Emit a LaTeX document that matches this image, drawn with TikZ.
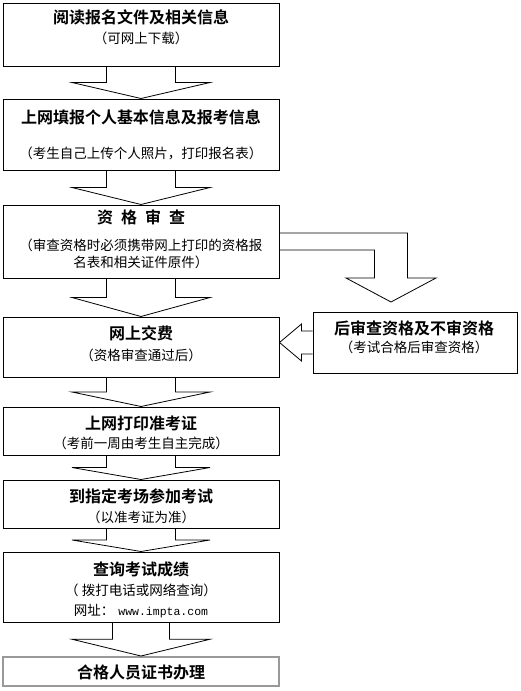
\documentclass[tikz,border=0pt]{standalone}
\usepackage{fontspec}
\setmainfont{Noto Sans CJK SC}[BoldFont={Noto Sans CJK SC Bold}]
\setmonofont{Liberation Mono}
\usetikzlibrary{calc}

\tikzset{
  stage/.style={draw, line width=1pt, minimum width=276, minimum height=#1, inner sep=0},
  head/.style={font=\bfseries\fontsize{16}{18}\selectfont, inner sep=0},
  note/.style={font=\fontsize{13.5}{17}\selectfont, align=center, inner sep=0},
  blk/.style={line width=0.8pt, line join=miter}
}

% block arrow pointing down from one stage to the next
\newcommand{\downblock}[3][34.5]{%
  \coordinate (mid) at ($(#2.south)!0.5!(#3.north)$) ;
  \draw[blk] ($(#2.south)+(-#1,0)$) -- ($(mid)+(-#1,0)$) -- ($(mid)+(-69,0)$)
    -- (#3.north) -- ($(mid)+(69,0)$) -- ($(mid)+(#1,0)$) -- ($(#2.south)+(#1,0)$) ;
}

\begin{document}
\begin{tikzpicture}[x=1pt, y=-1pt]
  \useasboundingbox (0,0) rectangle (521,691) ;

  \node[stage=63] (b1) at (141,34.5) {} ;
  \node[head] (t1a) at (141,17) {阅读报名文件及相关信息} ;
  \node[note] (t1b) at (141,38) {（可网上下载）} ;

  \node[stage=71] (b2) at (141,134.5) {} ;
  \node[head] (t2a) at (141,117) {上网填报个人基本信息及报考信息} ;
  \node[note] (t2b) at (141,153) {（考生自己上传个人照片，打印报名表）} ;

  \node[stage=73] (b3) at (141,241.5) {} ;
  \node[head] (t3a) at (141,217) {资\hspace{8pt}格\hspace{8pt}审\hspace{8pt}查} ;
  \node[note] (t3b) at (141,253.5) {（审查资格时必须携带网上打印的资格报\\名表和相关证件原件）} ;

  \node[stage=60] (b4) at (141,347) {} ;
  \node[head] (t4a) at (141,333) {网上交费} ;
  \node[note] (t4b) at (141,355) {（资格审查通过后）} ;

  \node[stage=61, minimum width=204] (b5) at (415,342.5) {} ;
  \node[head] (t5a) at (414,328) {后审查资格及不审资格} ;
  \node[note] (t5b) at (414,347) {（考试合格后审查资格）} ;

  \node[stage=48] (b6) at (141,431) {} ;
  \node[head] (t6a) at (141,423) {上网打印准考证} ;
  \node[note] (t6b) at (141,443) {（考前一周由考生自主完成）} ;

  \node[stage=48] (b7) at (141,504) {} ;
  \node[head] (t7a) at (141,496) {到指定考场参加考试} ;
  \node[note] (t7b) at (141,517) {（以准考证为准）} ;

  \node[stage=70] (b8) at (141,587) {} ;
  \node[head] (t8a) at (141,569) {查询考试成绩} ;
  \node[note] (t8b) at (141,590) {（ 拨打电话或网络查询）} ;
  \node[note] (t8c) at (141,611) {网址：\hspace{4pt}{\ttfamily\fontsize{11.5}{13}\selectfont www.impta.com}} ;

  \node[stage=29, draw=gray!80, line width=2pt] (b9) at (141,671.5) {} ;
  \node[head] (t9) at (141,672) {合格人员证书办理} ;

  \downblock{b1}{b2}
  \downblock{b2}{b3}
  \downblock{b3}{b4}
  \downblock{b4}{b6}
  \downblock{b6}{b7}
  \downblock{b7}{b8}
  \downblock[28.5]{b8}{b9}

  % side branch to the later check, and back into the fee stage
  \coordinate (sidetip) at (391,302) ;
  \draw[blk] ($(b3.east)+(0,-8.5)$) -| ($(sidetip)+(16.5,-24)$) -- ($(sidetip)+(45,-24)$)
    -- (sidetip) -- ($(sidetip)+(-45,-24)$) -- ($(sidetip)+(-16.5,-24)$) |- ($(b3.east)+(0,8.5)$) ;
  \draw[blk] ($(b5.west)+(0,-11.5)$) -- ++(-11,0) -- ++(0,-7) -- (b4.east |- b5.west)
    -- ($(b5.west)+(-11,18.5)$) -- ++(0,-7) -- ($(b5.west)+(0,11.5)$) ;
\end{tikzpicture}
\end{document}
